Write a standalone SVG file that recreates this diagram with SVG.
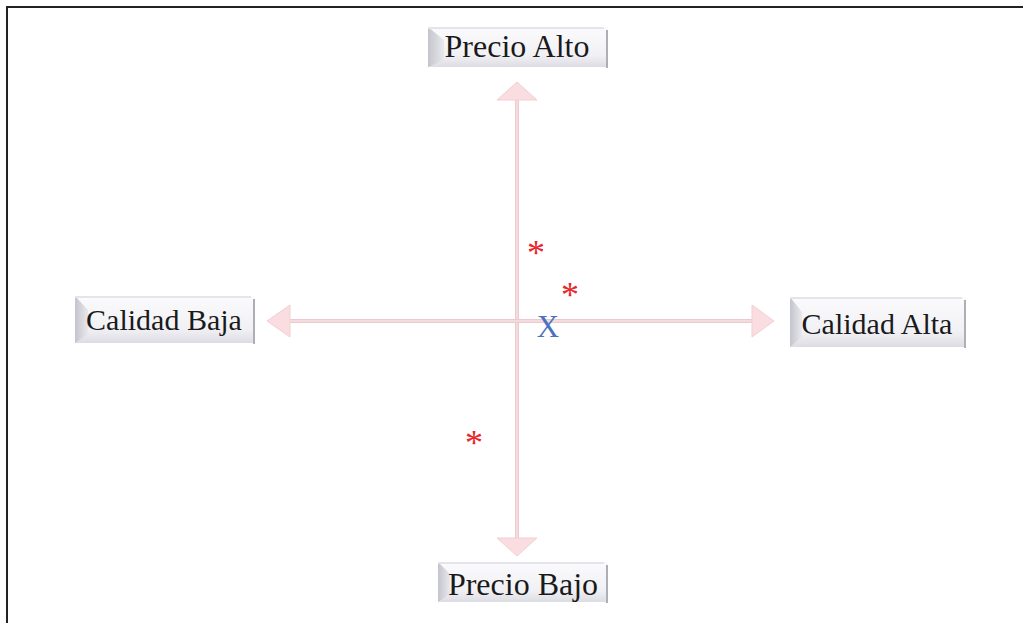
<svg xmlns="http://www.w3.org/2000/svg" width="1023" height="623" viewBox="0 0 1023 623">
<defs>
<linearGradient id="boxg" x1="0" y1="0" x2="0" y2="1">
<stop offset="0" stop-color="#fbfbfd"/>
<stop offset="0.7" stop-color="#f1f1f5"/>
<stop offset="1" stop-color="#dcdce3"/>
</linearGradient>
<linearGradient id="bevel" x1="0" y1="0" x2="1" y2="0">
<stop offset="0" stop-color="#c4c4cc"/>
<stop offset="1" stop-color="#e8e8ee"/>
</linearGradient>
</defs>
<style>
.lbl{font-family:"Liberation Serif","Times New Roman",serif;font-size:30px;fill:#1a1a1a;text-anchor:middle}
.pr{font-size:32px}
.ax{stroke:#ecc9cc;stroke-width:4;fill:none}
.axin{stroke:#f7e1e3;stroke-width:1.5;fill:none}
.head{fill:#f9dde0;stroke:#f1cfd2;stroke-width:1}
.star{font-family:"Liberation Serif","Times New Roman",serif;font-size:36px;fill:#e8262b;text-anchor:middle}
.mark{font-family:"Liberation Serif","Times New Roman",serif;font-size:31px;fill:#4a72c0;text-anchor:middle}
.box{fill:url(#boxg)}
.bev{fill:url(#bevel)}
.edge{stroke:#aeaeb6;stroke-width:2;fill:none}
.top{stroke:#e4e4ea;stroke-width:2;fill:none}
</style>
<rect x="0" y="0" width="1023" height="623" fill="#ffffff"/>
<path d="M7 623 V7 H1023" fill="none" stroke="#222222" stroke-width="2"/>
<g id="connectors">
<line class="ax" x1="517" y1="98" x2="517" y2="540"/>
<line class="axin" x1="517" y1="98" x2="517" y2="540"/>
<polygon class="head" points="517,82 537,100 497,100"/>
<polygon class="head" points="517,556 537,538 497,538"/>
<line class="ax" x1="288" y1="321" x2="755" y2="321"/>
<line class="axin" x1="288" y1="321" x2="755" y2="321"/>
<polygon class="head" points="267,321 290,305 290,337"/>
<polygon class="head" points="774,321 752,305 752,337"/>
</g>
<g id="precio-alto">
<rect class="box" x="428" y="27" width="180" height="40"/>
<polygon class="bev" points="428,27 444,40 444,60 428,67"/>
<path class="top" d="M428 28 H604"/>
<path class="edge" d="M607 30 V68"/>
<text class="lbl pr" x="517" y="57">Precio Alto</text>
</g>
<g id="calidad-baja">
<rect class="box" x="75" y="296" width="180" height="47"/>
<polygon class="bev" points="75,296 88,310 88,334 75,343"/>
<path class="top" d="M75 297 H251"/>
<path class="edge" d="M254 299 V344"/>
<text class="lbl" x="164" y="330">Calidad Baja</text>
</g>
<g id="calidad-alta">
<rect class="box" x="790" y="297" width="176" height="50"/>
<polygon class="bev" points="790,297 802,312 802,337 790,347"/>
<path class="top" d="M790 298 H962"/>
<path class="edge" d="M965 300 V348"/>
<text class="lbl" x="877" y="334">Calidad Alta</text>
</g>
<g id="precio-bajo">
<rect class="box" x="438" y="562" width="170" height="40"/>
<polygon class="bev" points="438,562 450,574 450,594 438,602"/>
<path class="top" d="M438 563 H604"/>
<path class="edge" d="M607 565 V603"/>
<text class="lbl pr" x="523" y="595">Precio Bajo</text>
</g>
<g id="points">
<text class="star" x="536" y="265">*</text>
<text class="star" x="570" y="307">*</text>
<text class="star" x="474" y="455">*</text>
<text class="mark" x="548" y="337">X</text>
</g>
</svg>
